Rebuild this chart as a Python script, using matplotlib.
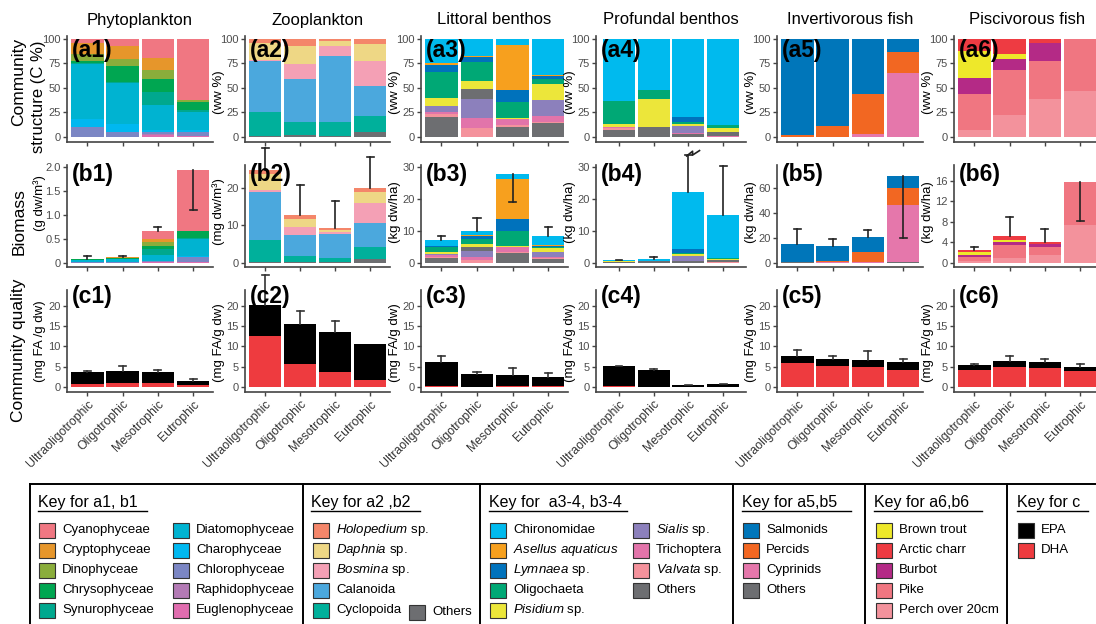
import matplotlib.pyplot as plt
import numpy as np
from matplotlib.patches import Rectangle

plt.rcParams['font.family'] = ['Liberation Sans', 'DejaVu Sans']
plt.rcParams['mathtext.fontset'] = 'custom'
plt.rcParams['mathtext.rm'] = 'Liberation Sans'
plt.rcParams['mathtext.it'] = 'Liberation Sans:italic'

W, H = 1096, 624

# ---------------------------------------------------------------- data
lakes = ["Ultraoligotrophic", "Oligotrophic", "Mesotrophic", "Eutrophic"]
titles = ["Phytoplankton", "Zooplankton", "Littoral benthos",
          "Profundal benthos", "Invertivorous fish", "Piscivorous fish"]

# phytoplankton, stacked bottom -> top
phyto_groups = ["Euglenophyceae", "Raphidophyceae", "Chlorophyceae", "Charophyceae",
                "Diatomophyceae", "Synurophyceae", "Chrysophyceae", "Dinophyceae",
                "Cryptophyceae", "Cyanophyceae"]
phyto_pct = [[0, 0.5, 2, 1], [0, 0, 1, 0], [10, 4.5, 2, 4], [8, 8, 2, 2],
             [56, 42.5, 25.5, 18.5], [1, 1, 13.5, 2], [2, 15.5, 13, 8],
             [8, 7.5, 9.5, 2.5], [11, 13.5, 12.5, 0], [4, 7, 19, 62]]
phyto_bio = [[0, 0, 0.01, 0.01], [0, 0, 0.005, 0], [0.005, 0.005, 0.01, 0.1],
             [0.005, 0.01, 0.01, 0.02], [0.055, 0.055, 0.115, 0.37], [0, 0, 0.135, 0.02],
             [0.005, 0.02, 0.065, 0.13], [0, 0.01, 0.09, 0.02], [0.005, 0.015, 0.05, 0],
             [0.005, 0.005, 0.16, 1.26]]
phyto_err = [0.14, 0.13, 0.75, 1.10]

# zooplankton
zoo_groups = ["Others", "Cyclopoida", "Calanoida", "Bosmina", "Daphnia", "Holopedium"]
zoo_pct = [[1, 2, 1, 5], [24.5, 13, 14, 16], [52.5, 44, 68, 31],
           [1, 15.5, 10, 25.5], [16.5, 18.5, 5, 17.5], [4.5, 7, 2, 5]]
zoo_bio = [[0.3, 0.3, 0.1, 1.0], [5.7, 1.5, 1.2, 3.3], [12.8, 5.6, 6.3, 6.2],
           [0.6, 2.0, 0.7, 5.3], [4.2, 2.2, 0.4, 3.1], [1.1, 1.1, 0.5, 0.9]]
zoo_err = [30.6, 20.7, 16.4, 28.3]

# benthos (a3-4, b3-4)
benth_groups = ["Others", "Valvata", "Trichoptera", "Sialis", "Others_mid", "Pisidium",
                "Oligochaeta", "Lymnaea", "Asellus", "Chironomidae"]
litt_pct = [[20.5, 0, 10, 14], [2.5, 9, 2, 1], [3, 10, 6, 6], [5.5, 19.5, 0, 16.5],
            [0, 10.5, 0, 0], [8.5, 8, 1, 16.5], [26.5, 19, 17, 5], [6.5, 5.5, 12, 3],
            [2, 1, 45.5, 1], [25, 17.5, 6.5, 37]]
litt_bio = [[1.6, 0, 2.9, 1.3], [0.3, 1.0, 0.3, 0.1], [0.4, 0.9, 1.7, 0.3],
            [0.5, 1.7, 0, 1.5], [0, 1.4, 0, 0], [0.5, 0.7, 0.4, 1.3], [1.6, 1.8, 4.5, 0.5],
            [0.2, 0.8, 3.7, 0.2], [0.2, 0.2, 12.5, 0.2], [1.8, 1.5, 1.7, 2.9]]
litt_err = [8.3, 14.1, 18.8, 11.3]
prof_pct = [[7.5, 10.5, 3.5, 0], [1.5, 0, 0, 0.5], [1, 0, 0.5, 1], [0, 0, 7.5, 0],
            [0, 0, 0, 3.5], [3, 28.5, 1.5, 4], [23.5, 9, 2, 3], [0, 0, 5.5, 0],
            [0, 0, 0, 0], [63.5, 52, 79.5, 88]]
prof_bio = [[0.35, 0.4, 0.5, 0], [0, 0, 0, 0.1], [0, 0, 0, 0.2], [0, 0, 1.7, 0],
            [0, 0, 0, 0.5], [0.1, 0.2, 0.6, 0.4], [0, 0, 0.2, 0.2], [0, 0, 1.4, 0],
            [0, 0, 0, 0], [0.4, 0.55, 17.6, 13.5]]
prof_err = [0.9, 1.9, 33.6, 30.3]

# invertivorous fish
inv_groups = ["Others", "Cyprinids", "Percids", "Salmonids"]
inv_pct = [[0, 0, 0, 0.5], [0.5, 0.5, 3, 65], [1.5, 10.5, 41, 21], [98, 89, 56, 13.5]]
inv_bio = [[0.3, 0, 0, 0.3], [0, 0.2, 0.5, 46], [0.3, 1.3, 8.4, 14.2], [14.2, 12, 11.5, 9.5]]
inv_err = [26.9, 18.8, 26.4, 20.2]

# piscivorous fish
pisc_groups = ["Perch over 20cm", "Pike", "Burbot", "Brown trout", "Arctic charr"]
pisc_pct = [[7, 22.5, 39, 47], [37, 46, 38, 52.5], [16.5, 11.5, 19, 0.5],
            [27, 5, 0, 0], [12.5, 15, 4, 0]]
pisc_bio = [[0.3, 1.0, 1.5, 7.4], [0.9, 2.5, 1.6, 8.3], [0.3, 0.5, 0.6, 0.1],
            [0.6, 0.4, 0, 0], [0.4, 0.8, 0.3, 0]]
pisc_err = [3.1, 9.0, 6.6, 8.1]

# community quality (mg FA / g dw)
dha = [[0.8, 1.06, 1.06, 0.5], [12.6, 5.7, 3.75, 1.8], [0.3, 0.15, 0.3, 0.3],
       [0.3, 0.15, 0.15, 0.15], [6.0, 5.2, 5.0, 4.25], [4.25, 5.0, 4.75, 4.0]]
epa = [[2.95, 2.94, 2.69, 1.05], [7.6, 9.8, 9.8, 8.8], [5.9, 3.05, 2.7, 2.15],
       [4.85, 4.1, 0.45, 0.65], [1.7, 1.75, 1.7, 1.95], [1.2, 1.45, 1.45, 0.95]]
fa_err = [[4.1, 5.2, 4.2, 1.95], [27.5, 18.7, 16.2, 10.6], [7.6, 3.8, 4.8, 3.4],
          [5.3, 4.4, 0.65, 0.9], [9.1, 7.75, 9.0, 6.85], [5.7, 7.7, 6.85, 5.6]]

# ---------------------------------------------------------------- colours
colors = {
    "Cyanophyceae": "#F07782", "Cryptophyceae": "#E6962B", "Dinophyceae": "#8AAD3B",
    "Chrysophyceae": "#00A651", "Synurophyceae": "#00A88E", "Diatomophyceae": "#00B3D1",
    "Charophyceae": "#00B8F0", "Chlorophyceae": "#7B86C4", "Raphidophyceae": "#B37AB5",
    "Euglenophyceae": "#E06DAF",
    "Holopedium": "#F4866A", "Daphnia": "#EED785", "Bosmina": "#F4A0B5",
    "Calanoida": "#4BA8DD", "Cyclopoida": "#00B09B", "Others": "#6D6E71",
    "Others_mid": "#6D6E71",
    "Chironomidae": "#00BAEE", "Asellus": "#F7A01E", "Lymnaea": "#0072BC",
    "Oligochaeta": "#00A875", "Pisidium": "#ECE63A", "Sialis": "#8C80BC",
    "Trichoptera": "#E274AA", "Valvata": "#F4929C",
    "Salmonids": "#0076BA", "Percids": "#F26722", "Cyprinids": "#E577AB",
    "Brown trout": "#EEE82A", "Arctic charr": "#EE3B42", "Burbot": "#B42A86",
    "Pike": "#F07681", "Perch over 20cm": "#F3929C",
    "EPA": "#000000", "DHA": "#EE3B3F",
}

columns = [
    (phyto_groups, phyto_pct, phyto_bio, phyto_err),
    (zoo_groups, zoo_pct, zoo_bio, zoo_err),
    (benth_groups, litt_pct, litt_bio, litt_err),
    (benth_groups, prof_pct, prof_bio, prof_err),
    (inv_groups, inv_pct, inv_bio, inv_err),
    (pisc_groups, pisc_pct, pisc_bio, pisc_err),
]

# ---------------------------------------------------------------- layout (pixels)
col_x = [(67, 213), (245, 390), (421, 568), (596, 746), (777, 923), (954, 1100)]
col_xlim = [(0.425, 4.56)] * 3 + [(0.337, 4.66)] + [(0.425, 4.56)] * 2
LAB_OFF = 26
row_y = {"a": (36, 142), "b": (165, 267), "c": (290, 392)}
a_ylim = (-5.1, 103)
b_ylims = [(-0.09, 2.035), (-1.15, 26.05), (-1.34, 30.5), (-1.34, 30.5),
           (-3.5, 78.8), (-0.84, 19.06)]
b_ticks = [[0, 0.5, 1.0, 1.5, 2.0], [0, 10, 20], [0, 10, 20, 30], [0, 10, 20, 30],
           [0, 20, 40, 60], [0, 4, 8, 12, 16]]
c_ylim = (-1.15, 23.8)

fig = plt.figure(figsize=(W / 100, H / 100), dpi=100)
x = np.arange(1, 5)
BW = 0.92
AXC = "#444444"


def px_axes(x0, x1, y0, y1):
    return fig.add_axes([x0 / W, 1 - y1 / H, (x1 - x0) / W, (y1 - y0) / H])


def ftext(px, py, s, **kw):
    fig.text(px / W, 1 - py / H, s, **kw)


def style(ax, xlim, ylim, yticks, ticklabels=None):
    ax.set_xlim(*xlim)
    ax.set_ylim(*ylim)
    for sp in ("top", "right"):
        ax.spines[sp].set_visible(False)
    for sp in ("left", "bottom"):
        ax.spines[sp].set_color(AXC)
        ax.spines[sp].set_linewidth(1.2)
    ax.set_xticks(x)
    ax.set_xticklabels(ticklabels if ticklabels else [])
    ax.set_yticks(yticks)
    ax.tick_params(length=3, width=1, color=AXC, labelcolor="#4D4D4D",
                   labelsize=8, pad=1.5)
    ax.patch.set_alpha(0)


def stack(ax, groups, values):
    bottom = np.zeros(4)
    for g, v in zip(groups, values):
        v = np.array(v, dtype=float)
        ax.bar(x, v, BW, bottom=bottom, color=colors[g], linewidth=0)
        bottom += v
    return bottom


def errbars(ax, tops, ends, color="#222222"):
    for xi, t, e in zip(x, tops, ends):
        if abs(e - t) < 1e-9:
            continue
        ax.plot([xi, xi], [t, e], color=color, lw=1.2, clip_on=False, zorder=4)
        ax.plot([xi - 0.1, xi + 0.1], [e, e], color=color, lw=1.2, clip_on=False, zorder=4)


for k, (groups, pct, bio, err) in enumerate(columns):
    x0, x1 = col_x[k]
    # row a
    ax = px_axes(x0, x1, *row_y["a"])
    stack(ax, groups, pct)
    style(ax, col_xlim[k], a_ylim, [0, 25, 50, 75, 100])
    # row b
    ax = px_axes(x0, x1, *row_y["b"])
    tops = stack(ax, groups, bio)
    errbars(ax, tops, err)
    style(ax, col_xlim[k], b_ylims[k], b_ticks[k])
    if k == 1:
        ax.set_yticklabels(["0", "10", "20"])
    if k == 0:
        ax.set_yticklabels(["0", "0.5", "1.0", "1.5", "2.0"])
    if k == 3:
        # broken error bar marker
        xi = x[2]
        ax.plot([xi - 0.05, xi + 0.12, xi + 0.12, xi + 0.32],
                [33.3, 34.8, 33.6, 35.0], color="#222222", lw=1.2, clip_on=False)
    # row c
    ax = px_axes(x0, x1, *row_y["c"])
    ax.bar(x, dha[k], BW, color=colors["DHA"], linewidth=0)
    ax.bar(x, epa[k], BW, bottom=dha[k], color=colors["EPA"], linewidth=0)
    tops = np.array(dha[k]) + np.array(epa[k])
    errbars(ax, tops, fa_err[k], color="#333333")
    style(ax, col_xlim[k], c_ylim, [0, 5, 10, 15, 20], lakes)
    for lab in ax.get_xticklabels():
        lab.set_rotation(45)
        lab.set_ha("right")
        lab.set_va("top")
        lab.set_rotation_mode("anchor")
        lab.set_fontsize(8.8)
        lab.set_color("#333333")

    # titles and panel letters
    ftext((x0 + x1) / 2, 20, titles[k], ha="center", va="center", fontsize=12)
    for row, dy in (("a", 15), ("b", 9), ("c", 6)):
        ftext(x0 + 5, row_y[row][0] + dy, "(%s%d)" % (row, k + 1), ha="left",
              va="center", fontsize=16.5, fontweight="bold", zorder=10)
    if k > 0:
        lx = x0 - LAB_OFF
        ftext(lx, 92, "(ww %)", rotation=90, ha="center", va="center", fontsize=9.5)
        ftext(lx, 212, "(mg dw/m³)" if k == 1 else "(kg dw/ha)",
              rotation=90, ha="center", va="center", fontsize=9.5)
        ftext(lx, 343, "(mg FA/g dw)", rotation=90, ha="center",
              va="center", fontsize=9.5)

# row labels
ftext(19, 82, "Community", rotation=90, ha="center", va="center", fontsize=12.5)
ftext(38, 97, "structure (C %)", rotation=90, ha="center", va="center", fontsize=12)
ftext(19, 222, "Biomass", rotation=90, ha="center", va="center", fontsize=12.5)
ftext(40, 203, "(g dw/m³)", rotation=90, ha="center", va="center", fontsize=9.5)
ftext(19, 350, "Community quality", rotation=90, ha="center", va="center", fontsize=12.5)
ftext(40, 341, "(mg FA /g dw)", rotation=90, ha="center", va="center", fontsize=9.5)

# ---------------------------------------------------------------- keys
lg = fig.add_axes([0, 0, 1, 1])
lg.set_xlim(0, W)
lg.set_ylim(H, 0)
lg.axis("off")
lg.patch.set_visible(False)

lg.plot([30, W], [484, 484], color="black", lw=1.4)
for xv in (30, 303, 480, 733, 865, 1007):
    lg.plot([xv, xv], [484, H], color="black", lw=1.4)

key_titles = [(38, 147, "Key for a1, b1"), (311, 420, "Key for a2 ,b2"),
              (489, 627, "Key for  a3-4, b3-4"), (742, 851, "Key for a5,b5"),
              (874, 982, "Key for a6,b6"), (1017, 1088, "Key for c")]
for tx0, tx1, t in key_titles:
    lg.text(tx0, 502, t, ha="left", va="center", fontsize=11.5)
    lg.plot([tx0, tx1], [511, 511], color="black", lw=1.0)

rows_y = [530, 550, 570, 590, 610]
key_items = [
    (39, ["Cyanophyceae", "Cryptophyceae", "Dinophyceae", "Chrysophyceae", "Synurophyceae"],
     ["Cyanophyceae", "Cryptophyceae", "Dinophyceae", "Chrysophyceae", "Synurophyceae"]),
    (173, ["Diatomophyceae", "Charophyceae", "Chlorophyceae", "Raphidophyceae", "Euglenophyceae"],
     ["Diatomophyceae", "Charophyceae", "Chlorophyceae", "Raphidophyceae", "Euglenophyceae"]),
    (313, ["Holopedium", "Daphnia", "Bosmina", "Calanoida", "Cyclopoida"],
     [r"$\it{Holopedium}$ sp.", r"$\it{Daphnia}$ sp.", r"$\it{Bosmina}$ sp.",
      "Calanoida", "Cyclopoida"]),
    (490, ["Chironomidae", "Asellus", "Lymnaea", "Oligochaeta", "Pisidium"],
     ["Chironomidae", r"$\it{Asellus\ aquaticus}$", r"$\it{Lymnaea}$ sp.",
      "Oligochaeta", r"$\it{Pisidium}$ sp."]),
    (633, ["Sialis", "Trichoptera", "Valvata", "Others"],
     [r"$\it{Sialis}$ sp.", "Trichoptera", r"$\it{Valvata}$ sp.", "Others"]),
    (743, ["Salmonids", "Percids", "Cyprinids", "Others"],
     ["Salmonids", "Percids", "Cyprinids", "Others"]),
    (876, ["Brown trout", "Arctic charr", "Burbot", "Pike", "Perch over 20cm"],
     ["Brown trout", "Arctic charr", "Burbot", "Pike", "Perch over 20cm"]),
    (1018, ["EPA", "DHA"], ["EPA", "DHA"]),
]


def key_entry(px, py, name, label):
    lg.add_patch(Rectangle((px, py - 7.5), 16, 15, facecolor=colors[name],
                           edgecolor="#333333", lw=0.8))
    lg.text(px + 23, py, label, ha="left", va="center", fontsize=9.5)


for px, names, labels in key_items:
    for py, n, l in zip(rows_y, names, labels):
        key_entry(px, py, n, l)
key_entry(409, 612, "Others", "Others")

fig.savefig("out.png", dpi=100)
